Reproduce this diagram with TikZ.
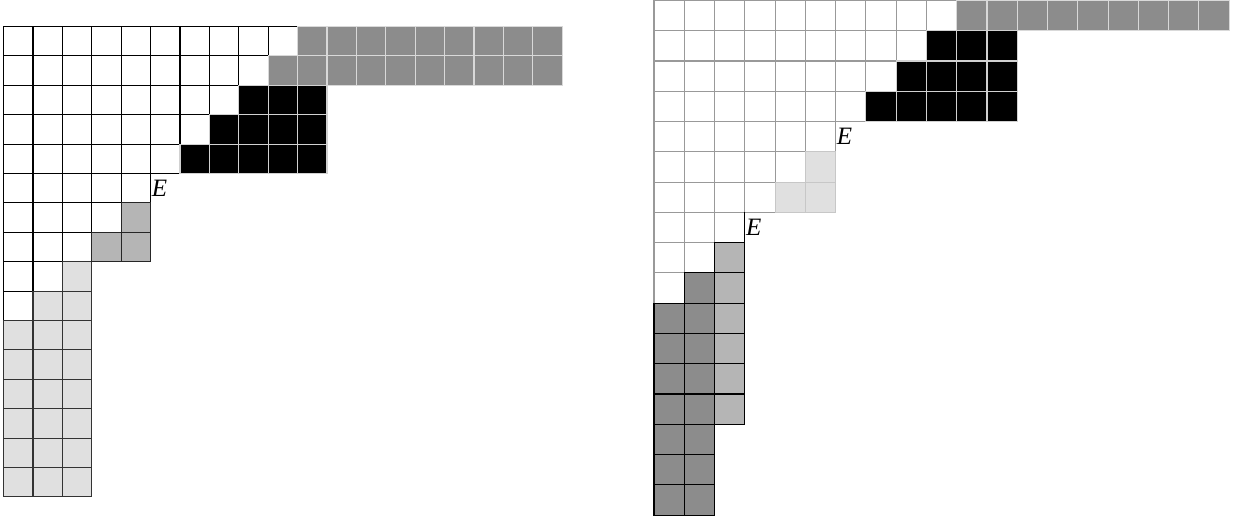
\documentclass[tikz,border=0pt]{standalone}
\usepackage{fontspec}
\newfontfamily\labfont{Liberation Serif}
\begin{document}
\begin{tikzpicture}[x=1pt,y=-1pt,
  cellbox/.style={line width=1.1pt},
  whiteL/.style={cellbox,fill=white,draw=black},
  lgreyL/.style={cellbox,fill=black!12,draw=black!80},
  mgreyL/.style={cellbox,fill=black!29,draw=black!85},
  blackL/.style={cellbox,fill=black,draw=black!18},
  dgreyL/.style={cellbox,fill=black!45,draw=black!15},
  whiteR/.style={cellbox,fill=white,draw=black!40},
  lgreyR/.style={cellbox,fill=black!12,draw=black!22},
  blackR/.style={cellbox,fill=black,draw=black!18},
  dgreyRt/.style={cellbox,fill=black!45,draw=black!15},
  mgreyR/.style={cellbox,fill=black!29,draw=black},
  dgreyR/.style={cellbox,fill=black!45,draw=black},
  lab/.style={inner sep=1pt,anchor=west,font=\fontsize{25}{25}\selectfont\labfont\itshape}]
\useasboundingbox (0,0) rectangle (1240,518);
% ---------- left diagram ----------
\def\sL{29.4}\def\xL{3.6}\def\yL{26.5}
\foreach \r/\a/\b in {0/0/9,1/0/8,2/0/7,3/0/6,4/0/5,5/0/4,6/0/3,7/0/2,8/0/1,9/0/0}
  \foreach \c in {\a,...,\b}
    \draw[whiteL] (\xL+\c*\sL,\yL+\r*\sL) rectangle +(\sL,\sL);
\foreach \r/\a/\b in {8/2/2,9/1/2,10/0/2,11/0/2,12/0/2,13/0/2,14/0/2,15/0/2}
  \foreach \c in {\a,...,\b}
    \draw[lgreyL] (\xL+\c*\sL,\yL+\r*\sL) rectangle +(\sL,\sL);
\foreach \r/\a/\b in {6/4/4,7/3/4}
  \foreach \c in {\a,...,\b}
    \draw[mgreyL] (\xL+\c*\sL,\yL+\r*\sL) rectangle +(\sL,\sL);
\foreach \r/\a/\b in {0/10/18,1/9/18}
  \foreach \c in {\a,...,\b}
    \draw[dgreyL] (\xL+\c*\sL,\yL+\r*\sL) rectangle +(\sL,\sL);
\foreach \r/\a/\b in {2/8/10,3/7/10,4/6/10}
  \foreach \c in {\a,...,\b}
    \draw[blackL] (\xL+\c*\sL,\yL+\r*\sL) rectangle +(\sL,\sL);
\node[lab] (EL) at (\xL+5*\sL,\yL+5.5*\sL) {E};
% ---------- right diagram ----------
\def\sR{30.27}\def\xR{654}\def\yR{0.5}
\foreach \r/\a/\b in {0/0/9,1/0/8,2/0/7,3/0/6,4/0/5,5/0/4,6/0/3,7/0/2,8/0/1,9/0/0}
  \foreach \c in {\a,...,\b}
    \draw[whiteR] (\xR+\c*\sR,\yR+\r*\sR) rectangle +(\sR,\sR);
\foreach \r/\a/\b in {5/5/5,6/4/5}
  \foreach \c in {\a,...,\b}
    \draw[lgreyR] (\xR+\c*\sR,\yR+\r*\sR) rectangle +(\sR,\sR);
\foreach \r/\a/\b in {0/10/18}
  \foreach \c in {\a,...,\b}
    \draw[dgreyRt] (\xR+\c*\sR,\yR+\r*\sR) rectangle +(\sR,\sR);
\foreach \r/\a/\b in {1/9/11,2/8/11,3/7/11}
  \foreach \c in {\a,...,\b}
    \draw[blackR] (\xR+\c*\sR,\yR+\r*\sR) rectangle +(\sR,\sR);
\foreach \r in {8,...,13}
    \draw[mgreyR] (\xR+2*\sR,\yR+\r*\sR) rectangle +(\sR,\sR);
\foreach \r/\a/\b in {9/1/1,10/0/1,11/0/1,12/0/1,13/0/1,14/0/1,15/0/1,16/0/1}
  \foreach \c in {\a,...,\b}
    \draw[dgreyR] (\xR+\c*\sR,\yR+\r*\sR) rectangle +(\sR,\sR);
\coordinate (cA) at (\xR+3*\sR,\yR+7*\sR);
\coordinate (cB) at (\xR+3*\sR,\yR+8*\sR);
\draw[line width=1.1pt,black] (cA) -- (cB);
\node[lab] (ER1) at (\xR+6*\sR,\yR+4.5*\sR) {E};
\node[lab] (ER2) at (\xR+3*\sR,\yR+7.5*\sR) {E};
\end{tikzpicture}
\end{document}
